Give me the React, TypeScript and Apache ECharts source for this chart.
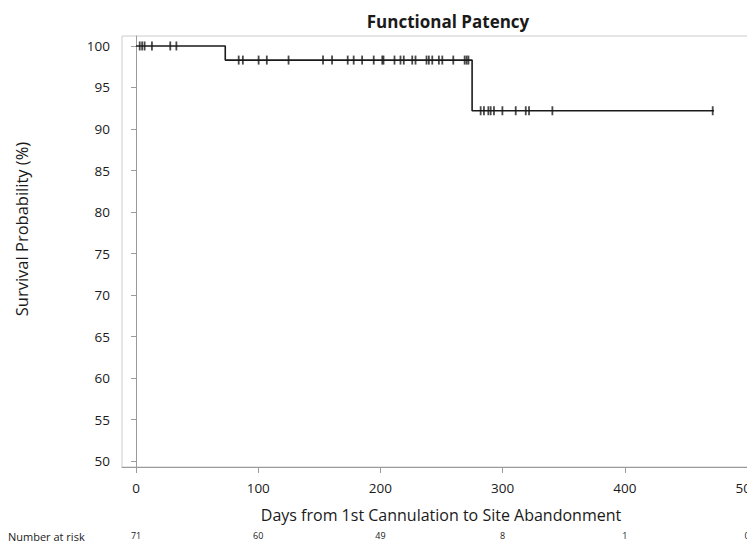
import React, { useEffect, useRef } from "react";
import * as echarts from "echarts";

const xTicks = [0, 100, 200, 300, 400, 500];
const yTicks = [50, 55, 60, 65, 70, 75, 80, 85, 90, 95, 100];
const atRisk = [71, 60, 49, 8, 1, 0];

const stepTimes = [0, 73, 73, 275, 275, 473];
const stepSurv = [100, 100, 98.3, 98.3, 92.2, 92.2];

const censor100 = [3, 5, 7, 13, 28, 33];
const censor983 = [84, 87.4, 100.3, 107, 124.8, 153, 160.4, 173.2, 178.1, 185, 194.5, 201.5, 202.5, 211.5, 216.4, 219.1, 226, 228.7, 237.7, 239.6, 242.4, 247.8, 250.6, 259.6, 268.9, 270.5, 272];
const censor922 = [282, 284.7, 288.3, 290.2, 292.9, 299.8, 310.7, 318.9, 321.6, 340.7, 471.9];

export default function App() {
  const ref = useRef<HTMLDivElement>(null);
  useEffect(() => {
    if (!ref.current) return;
    const chart = echarts.init(ref.current, null, { renderer: "svg" });
    const lineData = stepTimes.map((t, i) => [t, stepSurv[i]]);
    const censorData = [
      ...censor100.map((t) => [t, 100]),
      ...censor983.map((t) => [t, 98.3]),
      ...censor922.map((t) => [t, 92.2]),
    ];
    const font = "'Open Sans', 'DejaVu Sans', sans-serif";
    chart.setOption({
      animation: false,
      backgroundColor: "#ffffff",
      title: {
        text: "Functional Patency",
        left: 443,
        textAlign: "center",
        top: 8,
        textStyle: { fontFamily: font, fontWeight: "bold", fontSize: 17, color: "#1a1a1a" },
      },
      grid: { left: 122, top: 36, right: 30, bottom: 78, show: true, borderColor: "#cccccc", borderWidth: 1 },
      xAxis: [
        {
          type: "value",
          min: -11.5,
          max: 510.6,
          axisLine: { show: true, lineStyle: { color: "#9a9a9a" } },
          axisTick: { show: true, customValues: xTicks, length: 6, lineStyle: { color: "#9a9a9a" } },
          axisLabel: { customValues: xTicks, margin: 14, fontSize: 13.5, color: "#1a1a1a", fontFamily: font },
          splitLine: { show: false },
        },
        {
          type: "value",
          min: -11.5,
          max: 510.6,
          position: "bottom",
          offset: 60,
          axisLine: { show: false },
          axisTick: { show: false },
          axisLabel: {
            customValues: xTicks,
            margin: 4,
            fontSize: 9,
            color: "#1a1a1a",
            fontFamily: font,
            formatter: (v: number) => String(atRisk[xTicks.indexOf(v)]),
          },
          splitLine: { show: false },
        },
      ],
      yAxis: {
        type: "value",
        min: 49.3,
        max: 101.2,
        axisLine: { show: true, lineStyle: { color: "#9a9a9a" } },
        axisTick: { show: true, customValues: yTicks, length: 5, lineStyle: { color: "#9a9a9a" } },
        axisLabel: { customValues: yTicks, margin: 12, fontSize: 13.5, color: "#1a1a1a", fontFamily: font },
        splitLine: { show: false },
      },
      graphic: [
        {
          type: "text",
          x: 21,
          y: 229,
          rotation: Math.PI / 2,
          style: { text: "Survival Probability (%)", fontSize: 16.5, fontFamily: font, fill: "#1a1a1a", align: "center", verticalAlign: "middle" },
        },
        {
          type: "text",
          x: 441,
          y: 515,
          style: { text: "Days from 1st Cannulation to Site Abandonment", fontSize: 16, fontFamily: font, fill: "#1a1a1a", align: "center", verticalAlign: "middle" },
        },
        {
          type: "text",
          x: 8,
          y: 536,
          style: { text: "Number at risk", fontSize: 11, fontFamily: font, fill: "#1a1a1a", align: "left", verticalAlign: "middle" },
        },
      ],
      series: [
        {
          type: "line",
          data: lineData,
          symbol: "none",
          lineStyle: { color: "#1a1a1a", width: 1.6 },
          xAxisIndex: 0,
        },
        {
          type: "scatter",
          data: censorData,
          symbol: "rect",
          symbolSize: [1.8, 9],
          itemStyle: { color: "#1a1a1a" },
          xAxisIndex: 0,
        },
      ],
    });
    return () => chart.dispose();
  }, []);
  return (
    <div style={{ position: "fixed", left: 0, top: 0, width: 747, height: 545, overflow: "hidden", background: "#fff" }}>
      <div ref={ref} style={{ width: 790, height: 545 }} />
    </div>
  );
}
